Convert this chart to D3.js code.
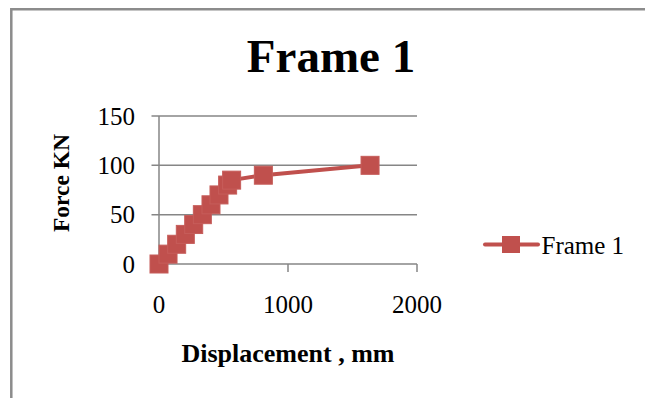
<!DOCTYPE html>
<html>
<head>
<meta charset="utf-8">
<script src="https://cdn.jsdelivr.net/npm/d3@7"></script>
<style>
  html, body { margin: 0; padding: 0; background: #fff; }
  svg { display: block; }
  text { font-family: "Liberation Serif", "Times New Roman", serif; fill: #000; }
</style>
</head>
<body>
<div id="chart"></div>
<script>
// Force–displacement response of Frame 1
const seriesName = "Frame 1";
const displacement = [0, 70, 137, 204, 269, 336, 403, 465, 532, 563, 809, 1636];
const force = [0, 10, 20, 30, 40, 50, 60, 70, 80, 85, 90, 100];
const xTicks = [0, 1000, 2000];
const yTicks = [0, 50, 100, 150];

const W = 645, H = 398;
const red = "#C0504D", grid = "#868686";

const svg = d3.select("#chart").append("svg")
  .attr("width", W).attr("height", H);

svg.append("rect").attr("width", W).attr("height", H).attr("fill", "#fff");

// chart frame (runs off the right and bottom edges)
svg.append("path")
  .attr("d", "M11.3,410 V9.3 H660")
  .attr("fill", "none").attr("stroke", "#8c8c8c").attr("stroke-width", 2.5);

const x = d3.scaleLinear().domain([0, 2000]).range([159, 417]);
const y = d3.scaleLinear().domain([0, 150]).range([264, 116]);

// title
svg.append("text")
  .attr("x", 331).attr("y", 72)
  .attr("text-anchor", "middle")
  .attr("font-size", 47).attr("font-weight", "bold")
  .text("Frame 1");

// horizontal gridlines with left tick stubs
svg.append("g").selectAll("line").data(yTicks).join("line")
  .attr("x1", 151.5).attr("x2", x(2000))
  .attr("y1", d => y(d)).attr("y2", d => y(d))
  .attr("stroke", grid).attr("stroke-width", 1.5);

// y axis line
svg.append("line")
  .attr("x1", x(0)).attr("x2", x(0))
  .attr("y1", y(150)).attr("y2", y(0) + 8)
  .attr("stroke", grid).attr("stroke-width", 1.5);

// x axis tick marks
svg.append("g").selectAll("line").data(xTicks).join("line")
  .attr("x1", d => x(d)).attr("x2", d => x(d))
  .attr("y1", y(0)).attr("y2", y(0) + 8)
  .attr("stroke", grid).attr("stroke-width", 1.5);

// y tick labels
svg.append("g").selectAll("text").data(yTicks).join("text")
  .attr("x", 135).attr("y", d => y(d) + 8.5)
  .attr("text-anchor", "end").attr("font-size", 25)
  .text(d => d);

// x tick labels
svg.append("g").selectAll("text").data(xTicks).join("text")
  .attr("x", d => x(d)).attr("y", 313)
  .attr("text-anchor", "middle").attr("font-size", 25)
  .text(d => d);

// axis titles
svg.append("text")
  .attr("x", 288).attr("y", 362)
  .attr("text-anchor", "middle").attr("font-size", 26).attr("font-weight", "bold")
  .text("Displacement , mm");

svg.append("text")
  .attr("transform", "translate(69,183) rotate(-90)")
  .attr("text-anchor", "middle").attr("font-size", 23.5).attr("font-weight", "bold")
  .text("Force KN");

// series
const pts = displacement.map((d, i) => [d, force[i]]);
svg.append("path")
  .datum(pts)
  .attr("d", d3.line().x(d => x(d[0])).y(d => y(d[1])))
  .attr("fill", "none").attr("stroke", red).attr("stroke-width", 4)
  .attr("stroke-linejoin", "round");

const m = 18;
svg.append("g").selectAll("rect").data(pts).join("rect")
  .attr("x", d => x(d[0]) - m / 2).attr("y", d => y(d[1]) - m / 2)
  .attr("width", m).attr("height", m)
  .attr("fill", red).attr("stroke", "#c65d5a").attr("stroke-width", 1);

// legend
const lg = svg.append("g");
lg.append("line")
  .attr("x1", 485).attr("x2", 538).attr("y1", 244.5).attr("y2", 244.5)
  .attr("stroke", red).attr("stroke-width", 4).attr("stroke-linecap", "round");
lg.append("rect")
  .attr("x", 502).attr("y", 236).attr("width", 18).attr("height", 17)
  .attr("fill", red);
lg.append("text")
  .attr("x", 541.5).attr("y", 254).attr("font-size", 25)
  .text(seriesName);
</script>
</body>
</html>
